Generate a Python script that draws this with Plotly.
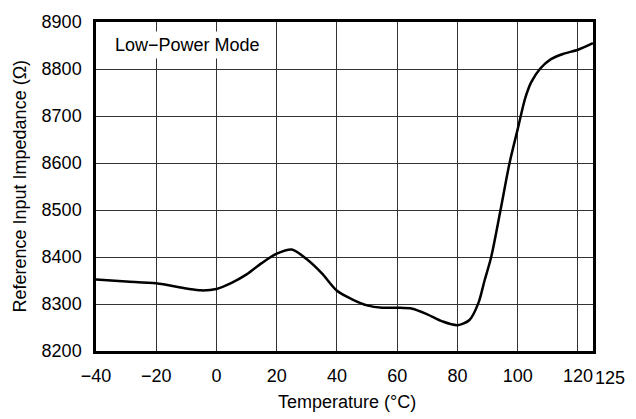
import plotly.graph_objects as go

# Reference input impedance vs. temperature, low-power mode
temperature = [-40, -30, -20, -10, -5, 0, 5, 10, 15, 20, 25, 30, 35, 40, 45, 50,
               55, 60, 65, 70, 75, 80, 84, 87, 89, 91.2, 94.3, 97.3, 100,
               102.5, 104.5, 107.5, 110.8, 115, 120, 125]
impedance = [8352, 8348, 8344, 8333, 8329, 8332, 8345, 8363, 8387, 8407, 8416,
             8395, 8365, 8328, 8310, 8297, 8292, 8292, 8290, 8278, 8263, 8255,
             8266, 8303, 8350, 8400, 8500, 8600, 8672, 8738, 8772, 8801, 8820,
             8832, 8841, 8855]

x_ticks = [-40, -20, 0, 20, 40, 60, 80, 100, 120]
y_ticks = [8200, 8300, 8400, 8500, 8600, 8700, 8800, 8900]

FONT = "Liberation Sans, Arial, Helvetica, sans-serif"
SIZE = 18

fig = go.Figure()
fig.add_trace(go.Scatter(
    x=temperature, y=impedance, mode="lines",
    line=dict(color="black", width=2.5, shape="spline", smoothing=0.8),
    hoverinfo="skip", showlegend=False,
))

fig.update_xaxes(
    range=[-40, 125], tickvals=x_ticks, ticktext=[str(v).replace("-", "\u2212") for v in x_ticks],
    showgrid=True, gridcolor="#333333", gridwidth=1,
    showline=True, linecolor="black", linewidth=2.5, mirror=True,
    ticks="", zeroline=False, ticklabelstandoff=7,
    tickfont=dict(family=FONT, size=SIZE, color="black"),
)
fig.update_yaxes(
    range=[8200, 8900], tickvals=y_ticks,
    showgrid=True, gridcolor="#333333", gridwidth=1,
    showline=True, linecolor="black", linewidth=2.5, mirror=True,
    ticks="", zeroline=False, ticklabelstandoff=8,
    tickfont=dict(family=FONT, size=SIZE, color="black"),
)

annotations = [
    # extra end-of-range label next to 120
    dict(x=125, y=0, xref="x", yref="paper", text="125", showarrow=False,
         xanchor="left", yanchor="top", xshift=0, yshift=-15,
         font=dict(family=FONT, size=SIZE, color="black")),
    dict(x=0.505, y=0, xref="paper", yref="paper", text="Temperature (\u00b0C)",
         showarrow=False, xanchor="center", yanchor="middle", yshift=-51,
         font=dict(family=FONT, size=SIZE, color="black")),
    dict(x=0, y=0.5, xref="paper", yref="paper", text="Reference Input Impedance (\u03a9)",
         showarrow=False, xanchor="center", yanchor="middle", xshift=-77, textangle=-90,
         font=dict(family=FONT, size=SIZE, color="black")),
    dict(x=-9.5, y=8851, xref="x", yref="y", text="Low\u2212Power Mode",
         showarrow=False, xanchor="center", yanchor="middle",
         bgcolor="white", borderpad=3,
         font=dict(family=FONT, size=SIZE, color="black")),
]

fig.update_layout(
    width=636, height=419,
    margin=dict(l=96, r=43, t=15, b=68),
    paper_bgcolor="white", plot_bgcolor="white",
    annotations=annotations,
)

fig.write_html("out.html")
